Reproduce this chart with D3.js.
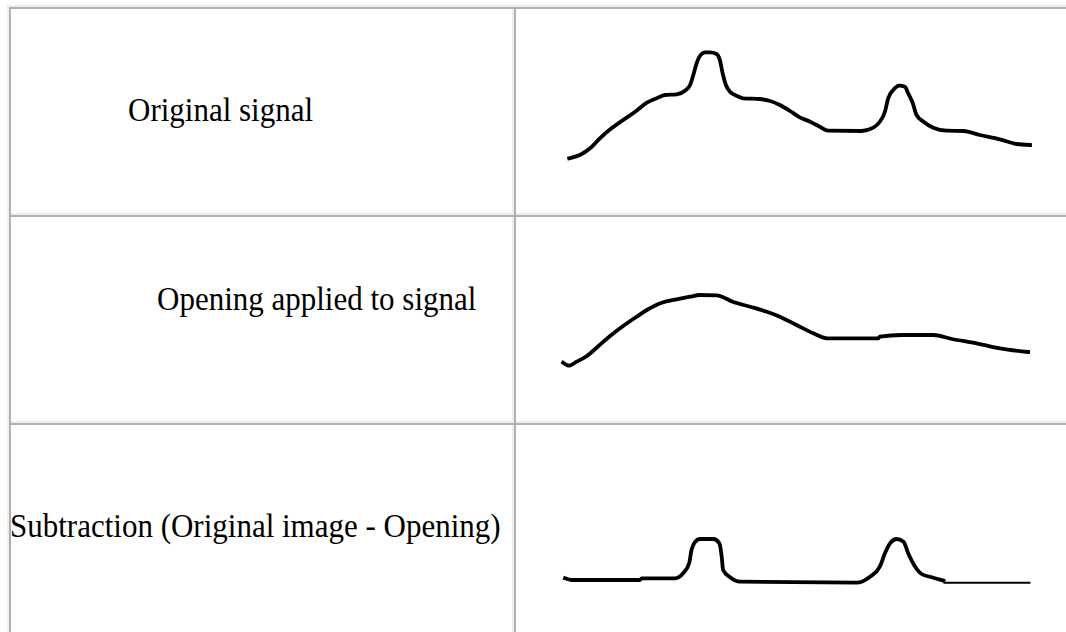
<!DOCTYPE html>
<html>
  <head>
    <meta charset="utf-8">
    <title>Top-hat: original, opening, subtraction</title>
    <script src="https://cdn.jsdelivr.net/npm/d3@7"></script>
    <style>
      body { margin: 0; background: #fff; }
      #chart { display: block; }
      .label { font-family: "Liberation Serif", "Times New Roman", serif; font-size: 31px; fill: #000; }
      .signal { fill: none; stroke: #000; stroke-width: 3.8; stroke-linejoin: round; stroke-linecap: square; }
      .tail { fill: none; stroke: #000; stroke-width: 2; }
    </style>
  </head>

  <body>
    <svg id="chart" width="1066" height="632">
      <g id="gridGroup"></g>
      <g id="labelGroup"></g>
      <g id="signalGroup"></g>
    </svg>

    <script>
      // data: [t, amplitude]
      rowLabels = ["Original signal", "Opening applied to signal", "Subtraction (Original image - Opening)"];
      labelX = [128, 157, 10];
      labelBaseline = [114, 95, 114];

      originalSignal = [
        [0.9, 0.97], [3.2, 1.3], [5.4, 1.97], [7.5, 2.97], [10.0, 3.97], [12.5, 4.8], [15.1, 5.63],
        [17.6, 6.53], [19.7, 6.97], [21.5, 7.3], [24.0, 7.37], [25.8, 7.73], [26.9, 8.3], [27.7, 9.47],
        [28.3, 10.47], [29.0, 11.2], [30.1, 11.57], [31.2, 11.57], [32.6, 11.4], [33.3, 10.8], [33.9, 9.47],
        [34.6, 8.3], [35.5, 7.63], [36.9, 7.23], [38.3, 6.97], [41.9, 6.9], [44.1, 6.7], [46.2, 6.3],
        [48.4, 5.7], [50.5, 5.07], [52.7, 4.63], [54.8, 4.13], [56.6, 3.73], [63.8, 3.7], [66.3, 4.03],
        [67.7, 4.63], [68.8, 5.63], [69.5, 6.97], [70.6, 7.8], [71.9, 8.23], [73.1, 8.13], [73.8, 7.47],
        [74.8, 6.47], [75.6, 5.3], [77.1, 4.63], [79.2, 4.03], [82.1, 3.73], [85.7, 3.7], [89.2, 3.3],
        [93.5, 2.87], [97.1, 2.4], [100, 2.3]
      ];

      openingSignal = [
        [-0.4, 1.33], [0.9, 1.03], [2.5, 1.43], [4.7, 2.0], [7.2, 3.0], [9.7, 4.0], [12.5, 5.0],
        [15.4, 5.93], [17.6, 6.6], [20.8, 7.33], [24.0, 7.67], [26.9, 7.93], [29.0, 8.1], [32.6, 8.07],
        [36.2, 7.4], [39.8, 6.93], [43.4, 6.43], [46.2, 5.93], [49.8, 5.1], [53.4, 4.27], [56.3, 3.77],
        [67.4, 3.77], [67.7, 3.93], [72.4, 4.1], [79.2, 4.1], [83.2, 3.7], [88.5, 3.27], [93.5, 2.77],
        [99.6, 2.4]
      ];

      subtraction = [
        [0, 0.57], [1.4, 0.4], [16.1, 0.4], [16.5, 0.57], [23.7, 0.57], [25.4, 1.07], [26.7, 2.07],
        [27.2, 3.4], [28.0, 4.23], [29.0, 4.5], [31.9, 4.5], [33.2, 4.07], [33.7, 2.73], [34.0, 1.4],
        [35.5, 0.67], [37.6, 0.23], [62.7, 0.13], [65.6, 0.73], [67.7, 1.73], [68.8, 3.07], [69.9, 4.07],
        [71.3, 4.5], [72.8, 4.23], [73.8, 3.07], [75.3, 1.73], [76.7, 1.0], [78.9, 0.67], [81.4, 0.33]
      ];

      subtractionTail = [[81.4, 0.13], [100.1, 0.13]];

      // elements
      chart = d3.select("#chart");
      gridGroup = d3.select("#gridGroup");
      labelGroup = d3.select("#labelGroup");
      signalGroup = d3.select("#signalGroup");

      // table geometry
      tableLeft = 7;
      tableTop = 5;
      colSplit = 514;
      rowPitch = 208;
      firstRowTop = 7;
      lightGrey = "#ededed";
      darkGrey = "#b1b1b1";
      rowTops = rowLabels.map(function(d, i) { return firstRowTop + i * rowPitch; });

      // outer table border (light, top + left)
      gridGroup.append("rect")
        .attr("x", tableLeft).attr("y", tableTop)
        .attr("width", 1066 - tableLeft).attr("height", 2)
        .attr("fill", lightGrey);
      gridGroup.append("rect")
        .attr("x", tableLeft).attr("y", tableTop)
        .attr("width", 2).attr("height", 632 - tableTop)
        .attr("fill", lightGrey);

      // cells: dark top/left, light bottom/right (last row runs off the page)
      cells = [];
      rowTops.forEach(function(top, i) {
        bottom = i === rowTops.length - 1 ? 660 : top + rowPitch;
        cells.push({ x0: tableLeft + 2, x1: colSplit, y0: top, y1: bottom });
        cells.push({ x0: colSplit, x1: 1080, y0: top, y1: bottom });
      });

      cellGroups = gridGroup.selectAll(".cell")
        .data(cells)
        .enter().append("g")
          .attr("class", "cell");

      cellGroups.append("rect")
        .attr("x", function(d) { return d.x1 - 2; })
        .attr("y", function(d) { return d.y0; })
        .attr("width", 2)
        .attr("height", function(d) { return d.y1 - d.y0; })
        .attr("fill", lightGrey);
      cellGroups.append("rect")
        .attr("x", function(d) { return d.x0; })
        .attr("y", function(d) { return d.y1 - 2; })
        .attr("width", function(d) { return d.x1 - d.x0; })
        .attr("height", 2)
        .attr("fill", lightGrey);
      cellGroups.append("rect")
        .attr("x", function(d) { return d.x0; })
        .attr("y", function(d) { return d.y0; })
        .attr("width", function(d) { return d.x1 - d.x0; })
        .attr("height", 2)
        .attr("fill", darkGrey);
      cellGroups.append("rect")
        .attr("x", function(d) { return d.x0; })
        .attr("y", function(d) { return d.y0; })
        .attr("width", 2)
        .attr("height", function(d) { return d.y1 - d.y0; })
        .attr("fill", darkGrey);

      // labels, a little taller than wide like the scanned original
      labelGroup.selectAll(".label")
        .data(rowLabels)
        .enter().append("text")
          .attr("class", "label")
          .attr("transform", function(d, i) {
            return "translate(" + labelX[i] + "," + (rowTops[i] + labelBaseline[i]) + ") scale(1, 1.12)";
          })
          .text(function(d) { return d; });

      // scales
      x = d3.scaleLinear()
        .domain([0, 100])
        .range([565, 1030]);

      yScales = rowTops.map(function(top) {
        return d3.scaleLinear()
          .domain([0, 10])
          .range([top + 161, top + 61]);
      });

      function lineFor(y) {
        return d3.line()
          .x(function(d) { return x(d[0]); })
          .y(function(d) { return y(d[1]); })
          .curve(d3.curveMonotoneX);
      }

      series = [originalSignal, openingSignal, subtraction];

      signalGroup.selectAll(".signal")
        .data(series)
        .enter().append("path")
          .attr("class", "signal")
          .attr("d", function(d, i) { return lineFor(yScales[i])(d); });

      signalGroup.append("path")
        .attr("class", "tail")
        .attr("d", d3.line()
          .x(function(d) { return x(d[0]); })
          .y(function(d) { return yScales[2](d[1]); })(subtractionTail));
    </script>
  </body>
</html>
